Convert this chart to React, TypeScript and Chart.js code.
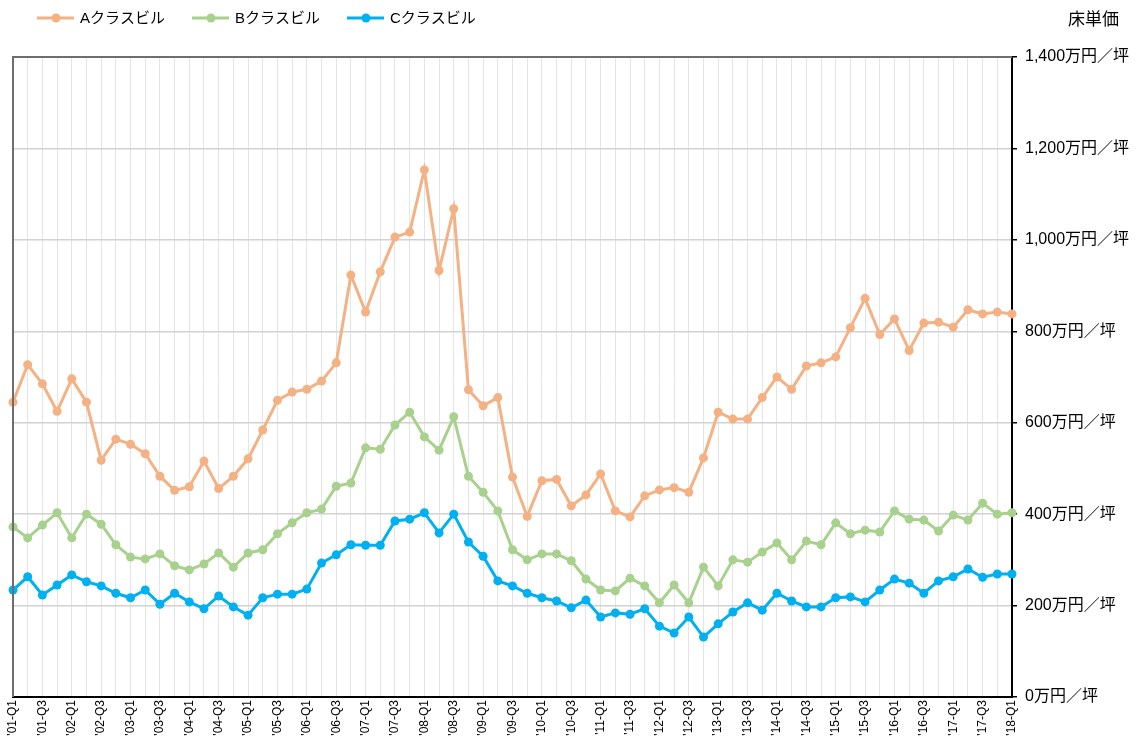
import React, { useEffect, useRef } from "react";
import { Chart, registerables } from "chart.js";

Chart.register(...registerables);

const categories = [
  "'01-Q1", "'01-Q2", "'01-Q3", "'01-Q4",
  "'02-Q1", "'02-Q2", "'02-Q3", "'02-Q4",
  "'03-Q1", "'03-Q2", "'03-Q3", "'03-Q4",
  "'04-Q1", "'04-Q2", "'04-Q3", "'04-Q4",
  "'05-Q1", "'05-Q2", "'05-Q3", "'05-Q4",
  "'06-Q1", "'06-Q2", "'06-Q3", "'06-Q4",
  "'07-Q1", "'07-Q2", "'07-Q3", "'07-Q4",
  "'08-Q1", "'08-Q2", "'08-Q3", "'08-Q4",
  "'09-Q1", "'09-Q2", "'09-Q3", "'09-Q4",
  "'10-Q1", "'10-Q2", "'10-Q3", "'10-Q4",
  "'11-Q1", "'11-Q2", "'11-Q3", "'11-Q4",
  "'12-Q1", "'12-Q2", "'12-Q3", "'12-Q4",
  "'13-Q1", "'13-Q2", "'13-Q3", "'13-Q4",
  "'14-Q1", "'14-Q2", "'14-Q3", "'14-Q4",
  "'15-Q1", "'15-Q2", "'15-Q3", "'15-Q4",
  "'16-Q1", "'16-Q2", "'16-Q3", "'16-Q4",
  "'17-Q1", "'17-Q2", "'17-Q3", "'17-Q4",
  "'18-Q1",
];

const seriesNames = ["Aクラスビル", "Bクラスビル", "Cクラスビル"];

const aValues = [
  645, 727, 685, 625, 696, 645, 518, 564, 553, 532,
  483, 452, 460, 516, 456, 483, 521, 584, 649, 667,
  673, 691, 731, 923, 842, 930, 1006, 1017, 1153, 933,
  1068, 672, 637, 655, 481, 395, 473, 476, 418, 442,
  488, 407, 394, 440, 453, 458, 448, 523, 623, 608,
  608, 655, 700, 673, 724, 731, 744, 808, 872, 793,
  827, 758, 818, 820, 809, 847, 838, 842, 838,
];

const bValues = [
  372, 348, 376, 403, 348, 400, 378, 333, 306, 302,
  313, 287, 278, 291, 315, 284, 315, 322, 357, 381,
  403, 411, 461, 468, 545, 542, 595, 623, 569, 540,
  613, 483, 448, 407, 322, 300, 313, 313, 298, 258,
  234, 232, 260, 243, 206, 245, 206, 284, 243, 300,
  295, 317, 337, 300, 341, 333, 381, 357, 365, 361,
  407, 389, 387, 363, 398, 387, 424, 400, 403,
];

const cValues = [
  234, 263, 223, 245, 267, 252, 243, 227, 217, 234,
  203, 227, 208, 193, 221, 197, 179, 217, 225, 225,
  236, 293, 311, 333, 332, 332, 385, 389, 403, 359,
  400, 339, 308, 254, 243, 227, 217, 210, 195, 212,
  175, 184, 181, 193, 155, 140, 175, 131, 160, 186,
  206, 190, 227, 210, 197, 197, 217, 219, 208, 234,
  258, 249, 227, 254, 263, 280, 262, 269, 269,
];

const yTickValues = [0, 200, 400, 600, 800, 1000, 1200, 1400];
const yTickLabels = [
  "0万円／坪", "200万円／坪", "400万円／坪", "600万円／坪",
  "800万円／坪", "1,000万円／坪", "1,200万円／坪", "1,400万円／坪",
];

const yAxisTitle = "床単価";

const colors = ["#F4B183", "#A9D18E", "#00B0F0"];

const FONT = "'Liberation Sans', Arial, 'Noto Sans CJK JP', sans-serif";

const decorPlugin = {
  id: "decor",
  afterDraw(chart: any) {
    const ctx = chart.ctx;
    const area = chart.chartArea;
    ctx.save();
    ctx.strokeStyle = "#6e6e6e";
    ctx.lineWidth = 2;
    ctx.beginPath();
    ctx.moveTo(area.left, area.bottom);
    ctx.lineTo(area.left, area.top);
    ctx.lineTo(area.right, area.top);
    ctx.stroke();

    const legendX = [37, 192, 347];
    const y = 18;
    ctx.font = `15px ${FONT}`;
    ctx.textBaseline = "middle";
    ctx.textAlign = "left";
    seriesNames.forEach((name, i) => {
      const x0 = legendX[i];
      ctx.strokeStyle = colors[i];
      ctx.lineWidth = 3;
      ctx.beginPath();
      ctx.moveTo(x0, y);
      ctx.lineTo(x0 + 37, y);
      ctx.stroke();
      ctx.fillStyle = colors[i];
      ctx.beginPath();
      ctx.arc(x0 + 19, y, 4.5, 0, Math.PI * 2);
      ctx.fill();
      ctx.fillStyle = "#000";
      ctx.fillText(name, x0 + 43, y + 1);
    });

    ctx.font = `17px ${FONT}`;
    ctx.fillStyle = "#000";
    ctx.textAlign = "left";
    ctx.fillText(yAxisTitle, 1068, 20);
    ctx.restore();
  },
};

export default function App() {
  const ref = useRef<HTMLCanvasElement>(null);

  useEffect(() => {
    if (!ref.current) return;
    const mk = (label: string, data: number[], color: string) => ({
      label,
      data,
      borderColor: color,
      backgroundColor: color,
      pointBackgroundColor: color,
      pointBorderColor: color,
      borderWidth: 3,
      pointRadius: 4.5,
      pointBorderWidth: 0,
      tension: 0,
      clip: false as any,
    });
    const chart = new Chart(ref.current, {
      type: "line",
      data: {
        labels: categories,
        datasets: [
          mk(seriesNames[0], aValues, colors[0]),
          mk(seriesNames[1], bValues, colors[1]),
          mk(seriesNames[2], cValues, colors[2]),
        ],
      },
      options: {
        animation: false,
        responsive: false,
        devicePixelRatio: 1,
        layout: { padding: { top: 57, left: 13, right: 0, bottom: 0 } },
        plugins: {
          legend: { display: false },
          tooltip: { enabled: false },
        },
        scales: {
          x: {
            offset: false,
            grid: {
              color: "#e4e4e4",
              lineWidth: 1,
              drawTicks: false,
            },
            border: { display: true, color: "#000", width: 2 },
            ticks: {
              autoSkip: false,
              minRotation: 90,
              maxRotation: 90,
              padding: 3,
              color: "#000",
              font: { family: FONT, size: 12 },
              callback: (_v: any, i: number) => (i % 2 === 0 ? categories[i] : ""),
            },
            afterFit: (scale: any) => {
              scale.height = 47;
            },
          },
          y: {
            position: "right",
            min: 0,
            max: 1400,
            grid: {
              color: "#d2d2d2",
              lineWidth: 1.5,
              drawTicks: true,
              tickLength: 5,
              tickColor: "#000",
            },
            border: { display: true, color: "#000", width: 2 },
            afterBuildTicks: (scale: any) => {
              scale.ticks = yTickValues.map((v) => ({ value: v }));
            },
            ticks: {
              padding: 8,
              color: "#000",
              font: { family: FONT, size: 16 },
              callback: (v: any) => {
                const idx = yTickValues.indexOf(Number(v));
                return idx >= 0 ? yTickLabels[idx] : "";
              },
            },
            afterFit: (scale: any) => {
              scale.width = 125;
            },
          },
        },
      },
      plugins: [decorPlugin],
    });
    return () => chart.destroy();
  }, []);

  return (
    <div style={{ position: "absolute", left: 0, top: 0, width: 1137, height: 744, background: "#fff" }}>
      <canvas ref={ref} width={1137} height={744} />
    </div>
  );
}
